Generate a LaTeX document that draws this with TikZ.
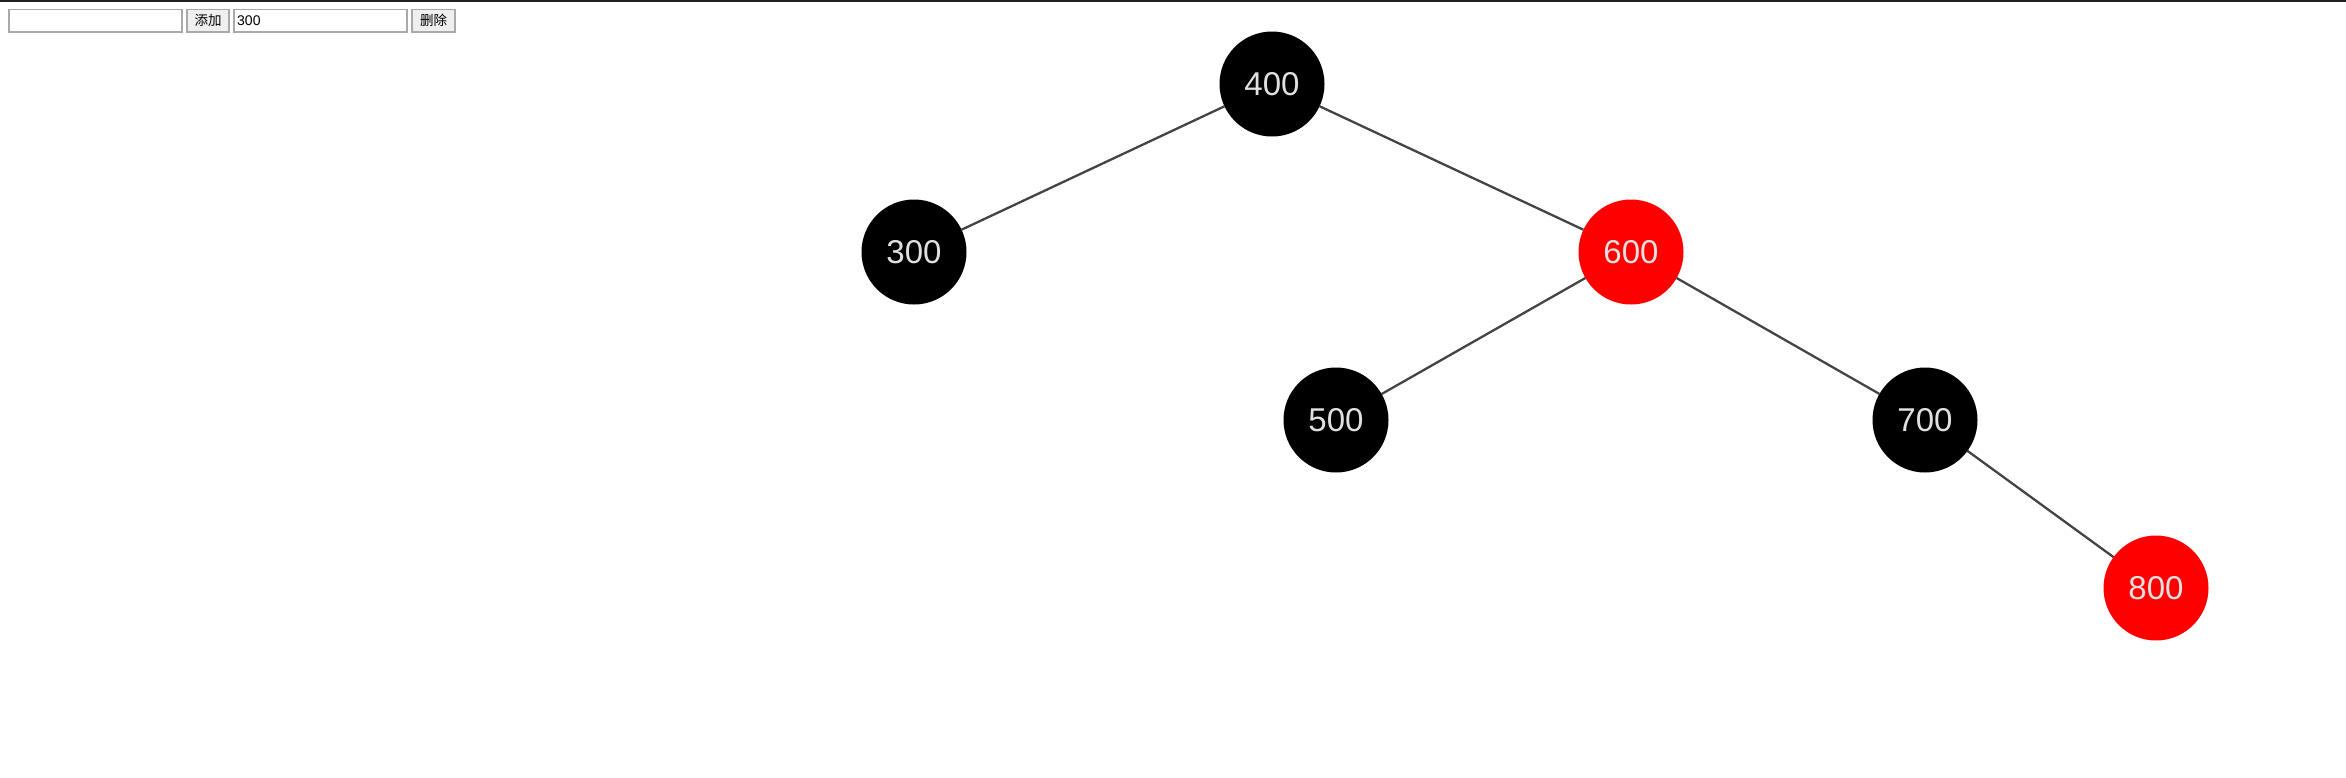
\documentclass[tikz,border=0pt]{standalone}
\usepackage{fontspec}
\setmainfont{Liberation Sans}
\newfontfamily\cjk{Noto Sans CJK SC}
\definecolor{edgegrey}{HTML}{444444}
\definecolor{labelgrey}{HTML}{E0E0E0}
\definecolor{boxborder}{HTML}{A9A9A9}
\definecolor{btnfill}{HTML}{EFEFEF}
\definecolor{nodered}{HTML}{FF0000}
\begin{document}
\begin{tikzpicture}[x=1pt,y=-1pt,
  treenode/.style={circle,minimum size=105pt,inner sep=0pt,outer sep=0pt,text=labelgrey,font=\fontsize{33}{33}\selectfont},
  blacknode/.style={treenode,fill=black},
  rednode/.style={treenode,fill=nodered},
  link/.style={draw=edgegrey,line width=2.3pt},
  inputbox/.style={draw=boxborder,fill=white,line width=1.2pt,minimum width=173pt,minimum height=22.5pt,inner sep=0pt,outer sep=0pt,anchor=north west},
  btnbox/.style={draw=boxborder,fill=btnfill,line width=1.2pt,minimum height=22.5pt,inner sep=0pt,outer sep=0pt,anchor=north west,font=\cjk\fontsize{13.5}{13.5}\selectfont}
]
\useasboundingbox (0,0) rectangle (2346,777);
\fill[white] (0,0) rectangle (2346,777);
\fill[black!87] (0,0) rectangle (2346,1.5);
% controls
\node[inputbox] (in1) at (9,9.5) {};
\node[btnbox,minimum width=42pt] (add) at (187,9.5) {添加};
\node[inputbox] (in2) at (234,9.5) {};
\node[anchor=west,inner sep=0pt,font=\fontsize{14}{14}\selectfont] (val) at ([xshift=3pt]in2.west) {300};
\node[btnbox,minimum width=43pt] (del) at (412,9.5) {删除};
% tree
\node[blacknode] (n400) at (1272,84) {400};
\node[blacknode] (n300) at (914,252) {300};
\node[rednode] (n600) at (1631,252) {600};
\node[blacknode] (n500) at (1336,420) {500};
\node[blacknode] (n700) at (1925,420) {700};
\node[rednode] (n800) at (2156,588) {800};
\draw[link] (n400) -- (n300);
\draw[link] (n400) -- (n600);
\draw[link] (n600) -- (n500);
\draw[link] (n600) -- (n700);
\draw[link] (n700) -- (n800);
\end{tikzpicture}
\end{document}
